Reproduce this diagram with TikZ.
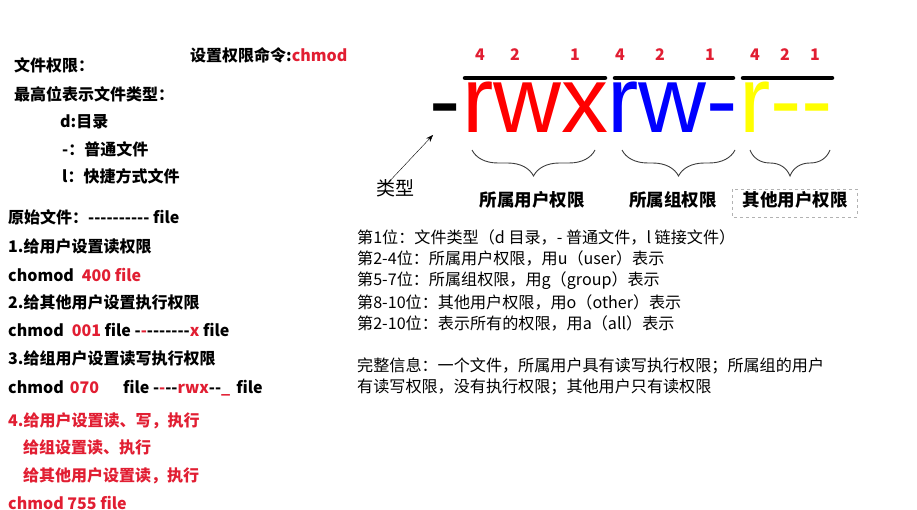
\documentclass[tikz,border=0pt]{standalone}
\usepackage{fontspec}
\usepackage{xcolor}
\usetikzlibrary{arrows.meta, decorations.pathreplacing}
\setmainfont{Noto Sans CJK SC}[Ligatures=TeXOff]
\newfontfamily\arialfont{Liberation Sans}[Ligatures=TeXOff]
\definecolor{cRed}{RGB}{225,30,50}
\definecolor{cBrace}{RGB}{60,60,60}
\definecolor{cYellow}{RGB}{255,255,0}
\tikzset{
	note/.style    ={anchor=base west, inner sep=0pt, font=\fontsize{16}{18}\selectfont\bfseries},
	rednote/.style ={note, text=cRed},
	plain/.style   ={anchor=base west, inner sep=0pt, font=\fontsize{16.1}{18}\selectfont},
	% permission string styles
	bigl/.style    ={anchor=base west, inner sep=0pt, text height=52pt, text depth=0pt, font=\fontsize{94}{100}\selectfont\arialfont},
	weight/.style  ={anchor=base, inner sep=0pt, text=cRed, font=\fontsize{16}{18}\selectfont\bfseries},
	grouplbl/.style={anchor=base, inner sep=0pt, font=\fontsize{17.5}{20}\selectfont\bfseries},
	bar/.style     ={line width=4.5pt, line cap=round},
	grpbrace/.style={decorate, decoration={brace, mirror, amplitude=26pt}, cBrace, line width=0.9pt},
	pointer/.style ={-{Stealth[length=2.5mm]}, thin},
}

\begin{document}
\begin{tikzpicture}[x=1pt, y=-1pt]
\useasboundingbox (0,0) rectangle (917,510);
% left column notes
\node[note] (t1) at (14,72) {文件权限：};
\node[note] (t2) at (14,101) {最高位表示文件类型：};
\node[note] (t3) at (60,128) {d:目录};
\node[note] (t4) at (62,156) {-：普通文件};
\node[note] (t5) at (62,183) {l：快捷方式文件};
\node[note] (cmd) at (190,62) {设置权限命令:\textcolor{cRed}{chmod}};
\node[note] (s0) at (8,224) {原始文件：---------- file};
\node[note] (s1) at (8,253) {1.给用户设置读权限};
\node[note] (c1) at (8,281) {chomod\hspace{8pt}\textcolor{cRed}{400 file}};
\node[note] (s2) at (8,308) {2.给其他用户设置执行权限};
\node[note] (c2) at (8,336) {chmod\hspace{8pt}\textcolor{cRed}{001} file -\textcolor{cRed}{-}-------\textcolor{cRed}{x} file};
\node[note] (s3) at (8,364) {3.给组用户设置读写执行权限};
\node[note] (c3) at (8,393) {chmod\hspace{6pt}\textcolor{cRed}{070}\hspace{24pt}file -\textcolor{cRed}{-}--\textcolor{cRed}{rwx}--\textcolor{cRed}{\_}\hspace{6pt}file};
\node[rednote] (s4) at (8,426) {4.给用户设置读、写，执行};
\node[rednote] (s4b) at (23,453) {给组设置读、执行};
\node[rednote] (s4c) at (23,481) {给其他用户设置读，执行};
\node[rednote] (c4) at (8,509) {chmod 755 file};

% permission string
\node[bigl] (ftype) at (429,133) {-};
\node[bigl, text=red] (uperm) at (462,133) {rwx};
\node[bigl, text=blue] (gperm) at (607,133) {rw-};
\node[bigl, text=cYellow] (operm) at (739,133) {r--};
\draw[bar] (465,78) -- (605,78);
\draw[bar] (615,78) -- (733,78);
\draw[bar] (743,78) -- (832,78);
\foreach \x/\w in {480/4,515/2,575/1,620/4,660/2,710/1,755/4,785/2,815/1}
	\node[weight] at (\x,61) {\w};
\draw[grpbrace] (472,150) -- (595,150);
\draw[grpbrace] (622,150) -- (735,150);
\draw[grpbrace] (750,150) -- (830,150);
\node[grouplbl] (ulbl) at (532,207) {所属用户权限};
\node[grouplbl] (glbl) at (673,207) {所属组权限};
\node[grouplbl] (olbl) at (795,207) {其他用户权限};
\draw[gray!60, dashed, thin] (732,189) rectangle (857,217);
\node[anchor=base, inner sep=0pt, font=\fontsize{19}{20}\selectfont] (typ) at (395,196) {类型};
\coordinate (dashtip) at (433,135);
\draw[pointer] ([xshift=-7pt, yshift=-3pt]typ.north) -- (dashtip);

% explanation
\node[plain] (e1) at (357,244) {第1位：文件类型（d 目录，- 普通文件，l 链接文件）};
\node[plain] (e2) at (357,265) {第2-4位：所属用户权限，用u（user）表示};
\node[plain] (e3) at (357,286) {第5-7位：所属组权限，用g（group）表示};
\node[plain] (e4) at (357,308) {第8-10位：其他用户权限，用o（other）表示};
\node[plain] (e5) at (357,329) {第2-10位：表示所有的权限，用a（all）表示};
\node[plain] (e6) at (357,371) {完整信息：一个文件，所属用户具有读写执行权限；所属组的用户};
\node[plain] (e7) at (357,392) {有读写权限，没有执行权限；其他用户只有读权限};
\end{tikzpicture}
\end{document}
